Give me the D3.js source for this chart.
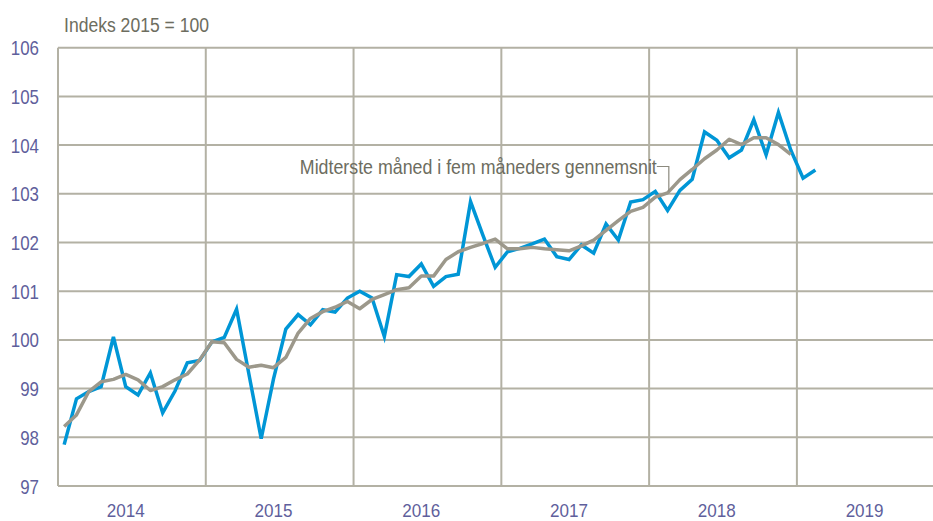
<!DOCTYPE html>
<html>
<head>
<meta charset="utf-8">
<script src="https://cdn.jsdelivr.net/npm/d3@7"></script>
<style>
  html, body { margin: 0; padding: 0; background: #fff; }
  svg { display: block; }
</style>
</head>
<body>
<div id="chart"></div>
<script>
// ---- Data (monthly, index 0 = Jan 2014) ----
const years = [2014, 2015, 2016, 2017, 2018, 2019];
const yTicks = [97, 98, 99, 100, 101, 102, 103, 104, 105, 106];

// Index, Jan 2014 - Feb 2019
const indexValues = [
  97.85, 98.79, 98.94, 99.04, 100.06, 99.04, 98.87, 99.32, 98.50, 98.95, 99.53, 99.58,
  99.96, 100.05, 100.63, 99.30, 97.97, 99.20, 100.22, 100.52, 100.31, 100.62, 100.57, 100.86,
  101.00, 100.86, 100.07, 101.34, 101.30, 101.56, 101.10, 101.30, 101.35, 102.84, 102.15, 101.49,
  101.81, 101.88, 101.97, 102.07, 101.71, 101.65, 101.95, 101.78, 102.38, 102.05, 102.83, 102.88,
  103.05, 102.66, 103.07, 103.30, 104.27, 104.10, 103.74, 103.90, 104.52, 103.80, 104.67, 103.90,
  103.32, 103.49
];

// Five-month centred average, Jan 2014 - Dec 2018
const avgValues = [
  98.22, 98.46, 98.94, 99.14, 99.19, 99.29, 99.18, 98.96, 99.04, 99.18, 99.30, 99.59,
  99.96, 99.94, 99.60, 99.44, 99.48, 99.43, 99.64, 100.14, 100.44, 100.58, 100.67, 100.79,
  100.64, 100.83, 100.93, 101.03, 101.07, 101.31, 101.31, 101.65, 101.81, 101.90, 101.98, 102.07,
  101.87, 101.87, 101.90, 101.87, 101.85, 101.83, 101.93, 102.05, 102.25, 102.45, 102.64, 102.72,
  102.93, 103.02, 103.29, 103.50, 103.72, 103.90, 104.12, 104.01, 104.15, 104.15, 104.01, 103.81
];

const yLabel = 'Indeks 2015 = 100';
const noteText = 'Midterste måned i fem måneders gennemsnit';
const noteMonth = 49.6; // where the leader meets the average line

// ---- Layout ----
const width = 933, height = 521;
const plot = { left: 58, top: 47.7, bottom: 486 };
const monthW = 12.315;

const gridColor = '#b3b1a4';
const tickColor = '#5f5f9c';
const textColor = '#6d6d60';
const blue = '#0096d6';
const grey = '#9c988b';
// no narrow font installed, so text is squeezed with textLength
const font = '"Liberation Sans", Arial, sans-serif';

const svg = d3.select('#chart').append('svg')
  .attr('width', width)
  .attr('height', height);

// ---- Scales ----
const x = d3.scaleLinear().domain([0, 72]).range([plot.left, plot.left + 72 * monthW]);
const y = d3.scaleLinear().domain([97, 106]).range([plot.bottom, plot.top]);

// ---- Grid ----
const grid = svg.append('g')
  .attr('stroke', gridColor)
  .attr('stroke-width', 2);

grid.selectAll('.hline').data(yTicks).join('line')
  .attr('class', 'hline')
  .attr('x1', x(0)).attr('x2', width)
  .attr('y1', d => y(d)).attr('y2', d => y(d));

grid.selectAll('.vline').data(years).join('line')
  .attr('class', 'vline')
  .attr('x1', (d, i) => x(i * 12)).attr('x2', (d, i) => x(i * 12))
  .attr('y1', y(106)).attr('y2', y(97));

// ---- Axis labels ----
svg.append('g').selectAll('text').data(yTicks).join('text')
  .attr('x', 39)
  .attr('y', d => y(d))
  .attr('dy', '0.36em')
  .attr('text-anchor', 'end')
  .attr('font-family', font)
  .attr('font-size', '21px')
  .attr('fill', tickColor)
  .attr('textLength', d => String(d).length * 9.4)
  .attr('lengthAdjust', 'spacingAndGlyphs')
  .text(d => d);

svg.append('g').selectAll('text').data(years).join('text')
  .attr('x', (d, i) => x(i * 12 + 5.5))
  .attr('y', 516.5)
  .attr('text-anchor', 'middle')
  .attr('font-family', font)
  .attr('font-size', '19px')
  .attr('fill', tickColor)
  .attr('textLength', 38)
  .attr('lengthAdjust', 'spacingAndGlyphs')
  .text(d => d);

svg.append('text')
  .attr('x', 64)
  .attr('y', 32)
  .attr('font-family', font)
  .attr('font-size', '20px')
  .attr('fill', textColor)
  .attr('textLength', 145)
  .attr('lengthAdjust', 'spacingAndGlyphs')
  .text(yLabel);

// ---- Lines ----
const line = d3.line()
  .x((d, i) => x(i + 0.5))
  .y(d => y(d));

svg.append('path')
  .datum(indexValues)
  .attr('d', line)
  .attr('fill', 'none')
  .attr('stroke', blue)
  .attr('stroke-width', 3.5)
  .attr('stroke-linejoin', 'miter');

svg.append('path')
  .datum(avgValues)
  .attr('d', line)
  .attr('fill', 'none')
  .attr('stroke', grey)
  .attr('stroke-width', 3.5)
  .attr('stroke-linejoin', 'round');

// ---- Annotation ----
const m0 = Math.floor(noteMonth - 0.5);
const t = noteMonth - 0.5 - m0;
const noteY = avgValues[m0] + (avgValues[m0 + 1] - avgValues[m0]) * t;
const lx = x(noteMonth);
const ly = 166.5;

svg.append('path')
  .attr('d', `M${lx - 12},${ly}H${lx}V${y(noteY)}`)
  .attr('fill', 'none')
  .attr('stroke', '#8c8a7e')
  .attr('stroke-width', 1.2);

svg.append('text')
  .attr('x', lx - 12 - 357)
  .attr('y', ly + 7.5)
  .attr('font-family', font)
  .attr('font-size', '21px')
  .attr('fill', textColor)
  .attr('textLength', 357)
  .attr('lengthAdjust', 'spacingAndGlyphs')
  .text(noteText);
</script>
</body>
</html>
